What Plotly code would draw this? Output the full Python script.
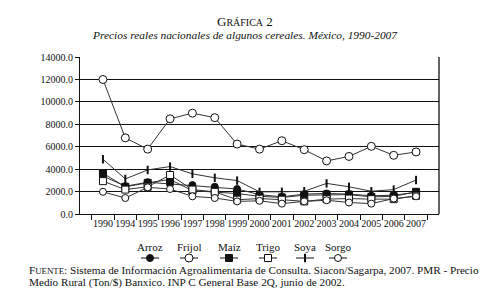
import plotly.graph_objects as go

years = ["1990", "1994", "1995", "1996", "1997", "1998", "1999", "2000",
         "2001", "2002", "2003", "2004", "2005", "2006", "2007"]

arroz = [3400, 2500, 2850, 2700, 2600, 2450, 2250, 1750, 1550, 1800, 1850, 1800, 1650, 1700, 1950]
frijol = [12000, 6800, 5800, 8500, 9000, 8600, 6250, 5800, 6550, 5750, 4750, 5150, 6050, 5250, 5550]
maiz = [3650, 2450, 2800, 3100, 2100, 2000, 1850, 1600, 1500, 1700, 1750, 1750, 1550, 1600, 2000]
trigo = [2950, 2200, 2450, 3500, 2200, 2000, 1300, 1400, 1300, 1150, 1350, 1400, 1350, 1350, 1650]
soya = [4900, 3150, 3950, 4250, 3600, 3250, 3000, 2000, 2000, 2050, 2750, 2450, 2050, 2200, 3050]
sorgo = [2000, 1450, 2400, 2250, 1600, 1450, 1150, 1200, 950, 1150, 1250, 1050, 950, 1400, 1600]

series_names = ["Arroz", "Frijol", "Maíz", "Trigo", "Soya", "Sorgo"]
series_values = [arroz, frijol, maiz, trigo, soya, sorgo]

y_ticks = [0, 2000, 4000, 6000, 8000, 10000, 12000, 14000]

FONT = "Liberation Serif"
BLACK = "#111111"
LINE = "#333333"

styles = {
    "Arroz": dict(symbol="circle", size=7, color=BLACK, line=dict(color=BLACK, width=1)),
    "Frijol": dict(symbol="circle", size=8, color="white", line=dict(color=BLACK, width=1)),
    "Maíz": dict(symbol="square", size=7, color=BLACK, line=dict(color=BLACK, width=1)),
    "Trigo": dict(symbol="square", size=7, color="white", line=dict(color=BLACK, width=1)),
    "Soya": dict(symbol="line-ns", size=6, color=BLACK, line=dict(color=BLACK, width=2)),
    "Sorgo": dict(symbol="circle", size=7, color="white", line=dict(color=BLACK, width=1)),
}

# page body has an 8px default margin: compensate
OFF = 8
W, H = 490 - OFF, 297 - OFF
# target pixel geometry (in window coords)
PL, PR, PT, PB = 80, 439, 57, 214.3   # plot area
BOTTOM_PAPER = 268                     # bottom of paper area (window coords)
LEG_TOP = 250                          # top of legend strip (window coords)
LEG_MARK_Y = 258

ml = PL - OFF
mr = (490 - PR)
mt = PT - OFF
mb = 297 - BOTTOM_PAPER
plot_h = H - mt - mb
dom_low = (BOTTOM_PAPER - PB) / plot_h
legend_dom = (BOTTOM_PAPER - LEG_TOP) / plot_h
mark_frac = (BOTTOM_PAPER - LEG_MARK_Y) / (BOTTOM_PAPER - LEG_TOP)

def px_x(px):
    return (px - PL) / (PR - PL)

def px_y(py):
    return (BOTTOM_PAPER - py) / plot_h

fig = go.Figure()

for name, vals in zip(series_names, series_values):
    fig.add_trace(go.Scatter(
        x=years, y=vals, mode="lines+markers", name=name,
        line=dict(color=LINE, width=1), marker=styles[name],
        showlegend=False, xaxis="x", yaxis="y", cliponaxis=False,
    ))

# custom legend: label above a short line with its marker
legend_centers = [150, 189, 229, 268, 305, 338]
for name, cx in zip(series_names, legend_centers):
    fig.add_trace(go.Scatter(
        x=[cx - 9, cx + 9], y=[mark_frac, mark_frac], mode="lines",
        line=dict(color=BLACK, width=1), showlegend=False,
        xaxis="x2", yaxis="y2", hoverinfo="skip", cliponaxis=False,
    ))
    fig.add_trace(go.Scatter(
        x=[cx], y=[mark_frac], mode="markers", marker=styles[name], showlegend=False,
        xaxis="x2", yaxis="y2", hoverinfo="skip", cliponaxis=False,
    ))
    fig.add_annotation(x=px_x(cx), y=px_y(247), xref="paper", yref="paper", text=name,
                       showarrow=False, xanchor="center", yanchor="middle",
                       font=dict(family=FONT, size=11, color=BLACK))

fig.update_layout(
    width=W, height=H,
    margin=dict(l=ml, r=mr, t=mt, b=mb, autoexpand=False),
    paper_bgcolor="white", plot_bgcolor="white",
    font=dict(family=FONT, size=10, color=BLACK),
    xaxis=dict(
        type="category", categoryorder="array", categoryarray=years,
        domain=[0, 1], anchor="y", automargin=False, tickangle=0,
        showgrid=False, showline=True, linecolor=BLACK, linewidth=1.2,
        ticks="outside", tickson="boundaries", ticklen=5, tickcolor=BLACK,
        tickfont=dict(family=FONT, size=10, color=BLACK),
    ),
    yaxis=dict(
        domain=[dom_low, 1], anchor="x", automargin=False,
        range=[0, 14000], tickvals=y_ticks, tickformat=".1f",
        showgrid=True, gridcolor=BLACK, gridwidth=1.4,
        showline=True, linecolor=BLACK, linewidth=1.2,
        ticks="outside", ticklen=4, tickcolor=BLACK,
        tickfont=dict(family=FONT, size=10, color=BLACK),
        zeroline=False,
    ),
    # legend strip axes: x in window pixels, y as fraction of strip
    xaxis2=dict(domain=[0, 1], anchor="y2", range=[PL, PR], visible=False, automargin=False),
    yaxis2=dict(domain=[0, legend_dom], anchor="x2", range=[0, 1],
                visible=False, automargin=False),
    shapes=[dict(type="line", xref="paper", yref="y", x0=1, x1=1, y0=0, y1=14000,
                 line=dict(color=BLACK, width=1.3))],
)

fig.add_annotation(x=px_x(245), y=px_y(21), xref="paper", yref="paper",
                   xanchor="center", yanchor="middle",
                   text="G<span style='font-size:10px'>RÁFICA</span> 2", showarrow=False,
                   font=dict(family=FONT, size=13, color=BLACK))
fig.add_annotation(x=px_x(245), y=px_y(35), xref="paper", yref="paper",
                   xanchor="center", yanchor="middle",
                   text="<i>Precios reales nacionales de algunos cereales. México, 1990-2007</i>",
                   showarrow=False, font=dict(family=FONT, size=11.4, color=BLACK))
fig.add_annotation(x=px_x(27), y=px_y(270), xref="paper", yref="paper",
                   xanchor="left", yanchor="middle",
                   text="F<span style='font-size:8.8px'>UENTE</span>: Sistema de Información Agroalimentaria de Consulta. Siacon/Sagarpa, 2007. PMR - Precio",
                   showarrow=False, font=dict(family=FONT, size=11.2, color=BLACK))
fig.add_annotation(x=px_x(27), y=px_y(282), xref="paper", yref="paper",
                   xanchor="left", yanchor="middle",
                   text="Medio Rural (Ton/$) Banxico. INP C General Base 2Q, junio de 2002.",
                   showarrow=False, font=dict(family=FONT, size=11.2, color=BLACK))

fig.write_html("out.html")
